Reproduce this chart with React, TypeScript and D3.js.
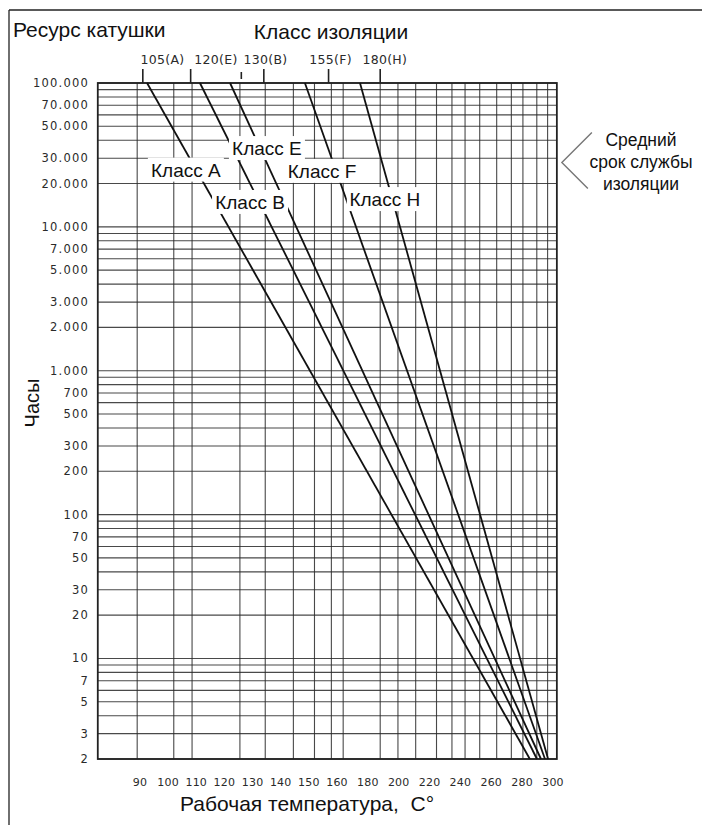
import React from "react";
import * as d3 from "d3";

// ---- data ----
const yTickValues = [100000, 70000, 50000, 30000, 20000, 10000, 7000, 5000, 3000, 2000, 1000, 700, 500, 300, 200, 100, 70, 50, 30, 20, 10, 7, 5, 3, 2];
const xTickValues = [90, 100, 110, 120, 130, 140, 150, 160, 180, 200, 220, 240, 260, 280, 300];
const xDomain = [75, 302.5];
const yDomain = [2, 100000];
const verticalGridTemps = [89, 102, 108.5, 125.5, 134.5, 144.5, 152, 158, 164, 188, 199.5, 211, 224.5, 234.5, 243, 252.5, 263.5, 273, 280.5, 289.5, 296.5];
const classNames = ["Класс A", "Класс B", "Класс E", "Класс F", "Класс H"];
const classTempAt100000 = [92.5, 111.3, 122, 148.6, 174.9];
const classTempAt2 = [285, 289.6, 292.2, 294.8, 296.8];
const classLabelTemps = [106.3, 129.1, 135.1, 154.7, 191];
const classLabelHours = [25000, 14900, 35300, 24500, 15600];
const insulationLabels = ["105(A)", "120(E)", "130(B)", "155(F)", "180(H)"];
const insulationTickTemps = [91, 108, 134, 157, 188];
const insulationLabelTemps = [98, 117, 134.6, 157.7, 191];
const extraShortTickTemp = [126];
const lifeBracketHours = 28000;
const annotationLines = ["Средний", "срок службы", "изоляции"];

const fmt = (v: number) => d3.format(",")(v).replace(/,/g, ".");

export default function App() {
  const W = 702, H = 825;
  const top = 83, bottom = 759;

  // piecewise x-scale: 10° steps up to 160, 20° steps beyond
  const x = d3
    .scaleLinear()
    .domain([90, 160, 300])
    .range([140, 337, 553]);
  const y = d3.scaleLog().domain(yDomain).range([bottom, top]);
  const left = x(xDomain[0]);
  const right = x(xDomain[1]);

  const hGrid: number[] = [];
  for (let dec = 1; dec <= 100000; dec *= 10) {
    for (let m = 1; m <= 9; m++) {
      const v = m * dec;
      if (v >= 2 && v <= 100000) hGrid.push(v);
    }
  }

  const numFont = "DejaVu Sans, sans-serif";
  const txtFont = "Liberation Sans, Arial, sans-serif";
  const line = d3.line<[number, number]>().x((d) => d[0]).y((d) => d[1]);

  const bracketY = y(lifeBracketHours);

  return (
    <svg width={W} height={H} style={{ position: "absolute", left: 0, top: 0, background: "#fff" }}>
      {/* outer frame */}
      <line x1={9} y1={10} x2={702} y2={10} stroke="#222" strokeWidth={1.3} />
      <line x1={9} y1={10} x2={9} y2={825} stroke="#222" strokeWidth={1.3} />

      {/* titles */}
      <text x={13} y={37} fontFamily={txtFont} fontSize={21} fill="#111">Ресурс катушки</text>
      <text x={331} y={39} fontFamily={txtFont} fontSize={21} fill="#111" textAnchor="middle">Класс изоляции</text>

      {/* horizontal grid */}
      {hGrid.map((v) => (
        <line key={"h" + v} x1={left} x2={right} y1={y(v)} y2={y(v)} stroke="#2a2a2a" strokeWidth={1.1} opacity={0.85} />
      ))}
      {/* vertical grid */}
      {verticalGridTemps.map((t) => (
        <line key={"v" + t} x1={x(t)} x2={x(t)} y1={top} y2={bottom} stroke="#2a2a2a" strokeWidth={1.1} opacity={0.85} />
      ))}
      {/* plot frame */}
      <rect x={left} y={top} width={right - left} height={bottom - top} fill="none" stroke="#222" strokeWidth={1.8} />

      {/* class lines */}
      {classNames.map((n, i) => (
        <path
          key={n}
          d={line([
            [x(classTempAt100000[i]), y(100000)],
            [x(classTempAt2[i]), y(2)],
          ]) || ""}
          stroke="#111"
          strokeWidth={1.8}
          fill="none"
        />
      ))}

      {/* class labels */}
      {classNames.map((n, i) => {
        const ly = y(classLabelHours[i]);
        const lx = x(classLabelTemps[i]);
        return (
          <g key={"l" + n}>
            <rect x={lx - 38} y={ly - 12} width={76} height={24} fill="#fff" />
            <text x={lx} y={ly + 7} fontFamily={txtFont} fontSize={19} textAnchor="middle" fill="#111">{n}</text>
          </g>
        );
      })}

      {/* y tick labels */}
      {yTickValues.map((v) => (
        <text key={"yt" + v} x={89} y={y(v) + 4} fontFamily={numFont} fontSize={11.5} letterSpacing={1.2} textAnchor="end" fill="#2a2a2a">
          {fmt(v)}
        </text>
      ))}

      {/* x tick labels */}
      {xTickValues.map((v) => (
        <text key={"xt" + v} x={x(v)} y={786} fontFamily={numFont} fontSize={11} letterSpacing={0.2} textAnchor="middle" fill="#2a2a2a">
          {v}
        </text>
      ))}

      {/* insulation class ticks on top */}
      {insulationTickTemps.map((t, i) => (
        <line key={"it" + i} x1={x(t)} x2={x(t)} y1={69} y2={top} stroke="#222" strokeWidth={1.6} />
      ))}
      {extraShortTickTemp.map((t, i) => (
        <line key={"st" + i} x1={x(t)} x2={x(t)} y1={72} y2={79} stroke="#222" strokeWidth={1.6} />
      ))}
      {insulationLabels.map((s, i) => (
        <text key={"il" + i} x={x(insulationLabelTemps[i])} y={64} fontFamily={numFont} fontSize={12.5} letterSpacing={0.3} textAnchor="middle" fill="#2a2a2a">
          {s}
        </text>
      ))}

      {/* axis titles */}
      <text transform={`translate(39,403) rotate(-90)`} fontFamily={txtFont} fontSize={20} textAnchor="middle" fill="#111">Часы</text>
      <text x={180} y={811} fontFamily={txtFont} fontSize={21} fill="#111" xmlSpace="preserve">Рабочая температура,  C°</text>

      {/* bracket annotation */}
      <path
        d={line([
          [right + 35, bracketY - 30],
          [right + 5, bracketY],
          [right + 31, bracketY + 26],
        ]) || ""}
        stroke="#777"
        strokeWidth={1.4}
        fill="none"
      />
      {annotationLines.map((s, i) => (
        <text key={"an" + i} x={641} y={146 + i * 22} fontFamily={txtFont} fontSize={17.5} textAnchor="middle" fill="#111">
          {s}
        </text>
      ))}
    </svg>
  );
}
